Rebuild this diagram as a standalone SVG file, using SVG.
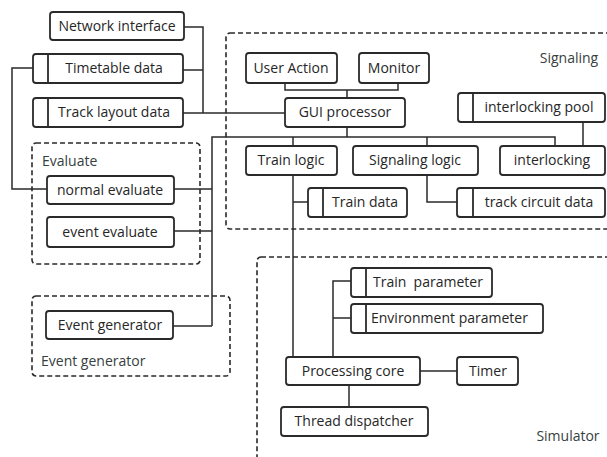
<svg xmlns="http://www.w3.org/2000/svg" width="607" height="457" viewBox="0 0 607 457">
  <style>
    .box { fill: #ffffff; stroke: #2a2a2a; stroke-width: 1.8; }
    .div { stroke: #2a2a2a; stroke-width: 1.8; fill: none; }
    .area { fill: none; stroke: #2a2a2a; stroke-width: 1.6; stroke-dasharray: 5 3; }
    .wire { fill: none; stroke: #2a2a2a; stroke-width: 1.5; }
    text { font-family: "Open Sans", "Noto Sans", "DejaVu Sans", sans-serif; font-size: 14px; fill: #262626; }
    .c { text-anchor: middle; }
    .lbl { fill: #364040; }
  </style>
  <rect width="607" height="457" fill="#ffffff"/>

  <!-- Grouping areas -->
  <g id="areas">
    <rect class="area" x="226" y="33" width="385" height="196" rx="4"/>
    <text class="lbl" x="569" y="63" text-anchor="middle">Signaling</text>
    <rect class="area" x="32" y="143" width="168" height="121" rx="4"/>
    <text class="lbl" x="42" y="166">Evaluate</text>
    <rect class="area" x="32" y="296" width="198" height="80" rx="4"/>
    <text class="lbl" x="41" y="366">Event generator</text>
    <rect class="area" x="257" y="257" width="360" height="210" rx="4"/>
    <text class="lbl" x="568" y="441" text-anchor="middle">Simulator</text>
  </g>

  <!-- Connectors -->
  <g id="connectors">
    <polyline class="wire" points="184,27 203,27 203,113"/>
    <polyline class="wire" points="183,70 203,70"/>
    <polyline class="wire" points="183,113 285,113"/>
    <polyline class="wire" points="33,68 12,68 12,189 47,189"/>
    <polyline class="wire" points="285,83 285,90 398,90 398,83"/>
    <line class="wire" x1="347" y1="90" x2="347" y2="98"/>
    <line class="wire" x1="347" y1="127" x2="347" y2="137"/>
    <polyline class="wire" points="212,326 212,137 555,137 555,146"/>
    <line class="wire" x1="293" y1="137" x2="293" y2="146"/>
    <line class="wire" x1="427" y1="137" x2="427" y2="146"/>
    <line class="wire" x1="583" y1="122" x2="583" y2="146"/>
    <polyline class="wire" points="427,175 427,202 457,202"/>
    <line class="wire" x1="293" y1="175" x2="293" y2="357"/>
    <line class="wire" x1="293" y1="202" x2="308" y2="202"/>
    <line class="wire" x1="174" y1="189" x2="212" y2="189"/>
    <line class="wire" x1="174" y1="231" x2="212" y2="231"/>
    <line class="wire" x1="173" y1="326" x2="212" y2="326"/>
    <polyline class="wire" points="351,281 333,281 333,357"/>
    <line class="wire" x1="333" y1="318" x2="351" y2="318"/>
    <line class="wire" x1="420" y1="371" x2="457" y2="371"/>
    <line class="wire" x1="349" y1="385" x2="349" y2="407"/>
  </g>

  <!-- Data sources -->
  <g id="network-interface">
    <rect class="box" x="50" y="12" width="134" height="28" rx="3"/>
    <text class="c" x="117" y="31">Network interface</text>
  </g>
  <g id="timetable-data">
    <rect class="box" x="33" y="54" width="150" height="29" rx="3"/>
    <line class="div" x1="48" y1="54" x2="48" y2="83"/>
    <text class="c" x="114" y="73">Timetable data</text>
  </g>
  <g id="track-layout-data">
    <rect class="box" x="33" y="98" width="150" height="29" rx="3"/>
    <line class="div" x1="48" y1="98" x2="48" y2="127"/>
    <text class="c" x="114" y="117">Track layout data</text>
  </g>

  <!-- Signaling -->
  <g id="user-action">
    <rect class="box" x="246" y="53" width="91" height="30" rx="3"/>
    <text class="c" x="291" y="73">User Action</text>
  </g>
  <g id="monitor">
    <rect class="box" x="359" y="53" width="70" height="30" rx="3"/>
    <text class="c" x="394" y="73">Monitor</text>
  </g>
  <g id="gui-processor">
    <rect class="box" x="285" y="98" width="120" height="29" rx="3"/>
    <text class="c" x="345" y="117">GUI processor</text>
  </g>
  <g id="interlocking-pool">
    <rect class="box" x="458" y="93" width="147" height="29" rx="3"/>
    <line class="div" x1="473" y1="93" x2="473" y2="122"/>
    <text class="c" x="539" y="112">interlocking pool</text>
  </g>
  <g id="train-logic">
    <rect class="box" x="246" y="146" width="91" height="29" rx="3"/>
    <text class="c" x="291" y="165">Train logic</text>
  </g>
  <g id="signaling-logic">
    <rect class="box" x="353" y="146" width="125" height="29" rx="3"/>
    <text class="c" x="415" y="165">Signaling logic</text>
  </g>
  <g id="interlocking">
    <rect class="box" x="500" y="146" width="105" height="29" rx="3"/>
    <text class="c" x="552" y="165">interlocking</text>
  </g>
  <g id="train-data">
    <rect class="box" x="308" y="188" width="99" height="29" rx="3"/>
    <line class="div" x1="323" y1="188" x2="323" y2="217"/>
    <text class="c" x="365" y="207">Train data</text>
  </g>
  <g id="track-circuit-data">
    <rect class="box" x="457" y="188" width="148" height="29" rx="3"/>
    <line class="div" x1="473" y1="188" x2="473" y2="217"/>
    <text class="c" x="539" y="207">track circuit data</text>
  </g>

  <!-- Evaluate -->
  <g id="normal-evaluate">
    <rect class="box" x="47" y="176" width="127" height="28" rx="3"/>
    <text class="c" x="110" y="195">normal evaluate</text>
  </g>
  <g id="event-evaluate">
    <rect class="box" x="47" y="217" width="127" height="30" rx="3"/>
    <text class="c" x="110" y="237">event evaluate</text>
  </g>

  <!-- Event generator -->
  <g id="event-generator">
    <rect class="box" x="46" y="311" width="127" height="28" rx="3"/>
    <text class="c" x="110" y="330">Event generator</text>
  </g>

  <!-- Simulator -->
  <g id="train-parameter">
    <rect class="box" x="351" y="268" width="141" height="29" rx="3"/>
    <line class="div" x1="366" y1="268" x2="366" y2="297"/>
    <text x="373" y="287" xml:space="preserve">Train  parameter</text>
  </g>
  <g id="environment-parameter">
    <rect class="box" x="351" y="304" width="192" height="29" rx="3"/>
    <line class="div" x1="366" y1="304" x2="366" y2="333"/>
    <text x="371" y="323">Environment parameter</text>
  </g>
  <g id="processing-core">
    <rect class="box" x="286" y="357" width="134" height="28" rx="3"/>
    <text class="c" x="353" y="376">Processing core</text>
  </g>
  <g id="timer">
    <rect class="box" x="457" y="357" width="61" height="28" rx="3"/>
    <text class="c" x="488" y="376">Timer</text>
  </g>
  <g id="thread-dispatcher">
    <rect class="box" x="281" y="407" width="147" height="29" rx="3"/>
    <text class="c" x="354" y="426">Thread dispatcher</text>
  </g>
</svg>
